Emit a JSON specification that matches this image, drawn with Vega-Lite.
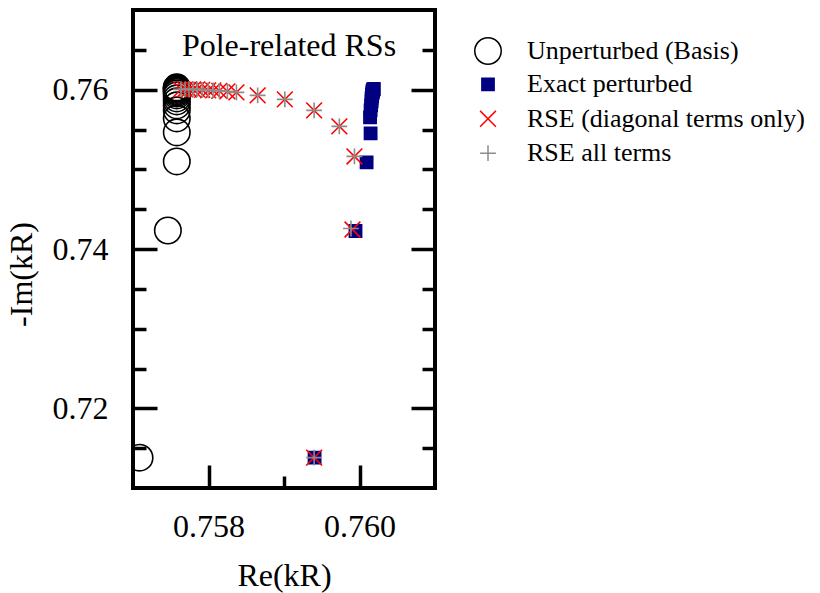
{
  "$schema": "https://vega.github.io/schema/vega-lite/v6.json",
  "width": 302,
  "height": 478,
  "autosize": {"type": "none"},
  "padding": {"left": 133, "top": 10, "right": 385, "bottom": 105},
  "background": "white",
  "config": {
    "font": "Liberation Serif",
    "view": {"stroke": "black", "strokeWidth": 4},
    "axis": {
      "domain": false,
      "grid": false,
      "tickColor": "black",
      "tickWidth": 3.5,
      "labelColor": "black",
      "titleColor": "black",
      "labelFontSize": 32,
      "titleFontSize": 32,
      "titleFontWeight": "normal",
      "labelFont": "Liberation Serif",
      "titleFont": "Liberation Serif",
      "labelOverlap": false,
      "labelFlush": false
    }
  },
  "title": {
    "text": "Pole-related RSs",
    "orient": "top",
    "anchor": "middle",
    "frame": "group",
    "offset": -78,
    "baseline": "alphabetic",
    "dx": 5,
    "fontSize": 32,
    "fontWeight": "normal",
    "font": "Liberation Serif",
    "color": "black"
  },
  "data": {
    "values": [
      {"series": "Unperturbed (Basis)", "re": 0.75758, "im": 0.750992},
      {"series": "Unperturbed (Basis)", "re": 0.75758, "im": 0.754636},
      {"series": "Unperturbed (Basis)", "re": 0.75758, "im": 0.756394},
      {"series": "Unperturbed (Basis)", "re": 0.75758, "im": 0.7574},
      {"series": "Unperturbed (Basis)", "re": 0.75758, "im": 0.758028},
      {"series": "Unperturbed (Basis)", "re": 0.75758, "im": 0.75853},
      {"series": "Unperturbed (Basis)", "re": 0.75758, "im": 0.758907},
      {"series": "Unperturbed (Basis)", "re": 0.75758, "im": 0.759284},
      {"series": "Unperturbed (Basis)", "re": 0.75758, "im": 0.759535},
      {"series": "Unperturbed (Basis)", "re": 0.75758, "im": 0.759724},
      {"series": "Unperturbed (Basis)", "re": 0.75758, "im": 0.759849},
      {"series": "Unperturbed (Basis)", "re": 0.75758, "im": 0.759975},
      {"series": "Unperturbed (Basis)", "re": 0.75758, "im": 0.7601},
      {"series": "Unperturbed (Basis)", "re": 0.75758, "im": 0.760163},
      {"series": "Unperturbed (Basis)", "re": 0.75758, "im": 0.760226},
      {"series": "Unperturbed (Basis)", "re": 0.75758, "im": 0.760289},
      {"series": "Unperturbed (Basis)", "re": 0.757462, "im": 0.742324},
      {"series": "Unperturbed (Basis)", "re": 0.757087, "im": 0.713807},
      {"series": "Exact perturbed", "re": 0.760094, "im": 0.750867},
      {"series": "Exact perturbed", "re": 0.760147, "im": 0.75451},
      {"series": "Exact perturbed", "re": 0.76014, "im": 0.75652},
      {"series": "Exact perturbed", "re": 0.760147, "im": 0.7574},
      {"series": "Exact perturbed", "re": 0.760154, "im": 0.758028},
      {"series": "Exact perturbed", "re": 0.76016, "im": 0.75853},
      {"series": "Exact perturbed", "re": 0.76016, "im": 0.758907},
      {"series": "Exact perturbed", "re": 0.760167, "im": 0.759158},
      {"series": "Exact perturbed", "re": 0.760167, "im": 0.759409},
      {"series": "Exact perturbed", "re": 0.760174, "im": 0.759598},
      {"series": "Exact perturbed", "re": 0.760174, "im": 0.759724},
      {"series": "Exact perturbed", "re": 0.760174, "im": 0.759849},
      {"series": "Exact perturbed", "re": 0.76018, "im": 0.759912},
      {"series": "Exact perturbed", "re": 0.76018, "im": 0.759975},
      {"series": "Exact perturbed", "re": 0.760187, "im": 0.760038},
      {"series": "Exact perturbed", "re": 0.760187, "im": 0.7601},
      {"series": "Exact perturbed", "re": 0.759947, "im": 0.742261},
      {"series": "Exact perturbed", "re": 0.759405, "im": 0.713806},
      {"series": "RSE (diagonal terms only)", "re": 0.759933, "im": 0.751621},
      {"series": "RSE (diagonal terms only)", "re": 0.759733, "im": 0.755389},
      {"series": "RSE (diagonal terms only)", "re": 0.759399, "im": 0.7574},
      {"series": "RSE (diagonal terms only)", "re": 0.759011, "im": 0.758781},
      {"series": "RSE (diagonal terms only)", "re": 0.758651, "im": 0.759284},
      {"series": "RSE (diagonal terms only)", "re": 0.75837, "im": 0.759661},
      {"series": "RSE (diagonal terms only)", "re": 0.75825, "im": 0.759786},
      {"series": "RSE (diagonal terms only)", "re": 0.758143, "im": 0.759849},
      {"series": "RSE (diagonal terms only)", "re": 0.758063, "im": 0.759912},
      {"series": "RSE (diagonal terms only)", "re": 0.757996, "im": 0.759912},
      {"series": "RSE (diagonal terms only)", "re": 0.757916, "im": 0.759975},
      {"series": "RSE (diagonal terms only)", "re": 0.757849, "im": 0.760038},
      {"series": "RSE (diagonal terms only)", "re": 0.757796, "im": 0.760038},
      {"series": "RSE (diagonal terms only)", "re": 0.757742, "im": 0.760038},
      {"series": "RSE (diagonal terms only)", "re": 0.757689, "im": 0.760038},
      {"series": "RSE (diagonal terms only)", "re": 0.757635, "im": 0.760038},
      {"series": "RSE (diagonal terms only)", "re": 0.759907, "im": 0.74245},
      {"series": "RSE (diagonal terms only)", "re": 0.759399, "im": 0.71381},
      {"series": "RSE all terms", "re": 0.759933, "im": 0.751621},
      {"series": "RSE all terms", "re": 0.759733, "im": 0.755389},
      {"series": "RSE all terms", "re": 0.759399, "im": 0.7574},
      {"series": "RSE all terms", "re": 0.759011, "im": 0.758781},
      {"series": "RSE all terms", "re": 0.758651, "im": 0.759284},
      {"series": "RSE all terms", "re": 0.75837, "im": 0.759661},
      {"series": "RSE all terms", "re": 0.75825, "im": 0.759786},
      {"series": "RSE all terms", "re": 0.758143, "im": 0.759849},
      {"series": "RSE all terms", "re": 0.758063, "im": 0.759912},
      {"series": "RSE all terms", "re": 0.757996, "im": 0.759912},
      {"series": "RSE all terms", "re": 0.757916, "im": 0.759975},
      {"series": "RSE all terms", "re": 0.757849, "im": 0.760038},
      {"series": "RSE all terms", "re": 0.757796, "im": 0.760038},
      {"series": "RSE all terms", "re": 0.757742, "im": 0.760038},
      {"series": "RSE all terms", "re": 0.757689, "im": 0.760038},
      {"series": "RSE all terms", "re": 0.757635, "im": 0.760038},
      {"series": "RSE all terms", "re": 0.759887, "im": 0.742576},
      {"series": "RSE all terms", "re": 0.759399, "im": 0.71381}
    ]
  },
  "layer": [
    {
      "mark": {"type": "point", "clip": true, "strokeWidth": 1.6, "opacity": 1},
      "encoding": {
        "x": {
          "field": "re", "type": "quantitative",
          "scale": {"domain": [0.757, 0.761], "nice": false, "zero": false},
          "axis": {"orient": "bottom", "values": [0.758, 0.76], "format": ".3f", "tickSize": -23, "labelPadding": 46, "title": "Re(kR)", "titlePadding": 18}
        },
        "y": {
          "field": "im", "type": "quantitative",
          "scale": {"domain": [0.71, 0.77], "nice": false, "zero": false},
          "axis": {"orient": "left", "values": [0.72, 0.74, 0.76], "format": ".2f", "tickSize": -24, "labelPadding": 49, "title": "-Im(kR)", "titlePadding": 14, "titleY": 264}
        },
        "shape": {
          "field": "series", "type": "nominal",
          "scale": {"domain": ["Unperturbed (Basis)", "Exact perturbed", "RSE (diagonal terms only)", "RSE all terms"], "range": ["circle", "square", "M-1,-1L1,1M-1,1L1,-1", "M-1,0L1,0M0,-1L0,1"]},
          "legend": {"title": null, "orient": "none", "legendX": 341, "legendY": 27, "labelFontSize": 26, "labelFont": "Liberation Serif", "labelColor": "black", "labelOffset": 25, "labelLimit": 500, "gridAlign": "all", "rowPadding": 3.4}
        },
        "fill": {
          "field": "series", "type": "nominal",
          "scale": {"domain": ["Unperturbed (Basis)", "Exact perturbed", "RSE (diagonal terms only)", "RSE all terms"], "range": ["transparent", "#000080", "transparent", "transparent"]},
          "legend": {"title": null, "orient": "none", "legendX": 341, "legendY": 27, "labelFontSize": 26, "labelFont": "Liberation Serif", "labelColor": "black", "labelOffset": 25, "labelLimit": 500, "gridAlign": "all", "rowPadding": 3.4}
        },
        "stroke": {
          "field": "series", "type": "nominal",
          "scale": {"domain": ["Unperturbed (Basis)", "Exact perturbed", "RSE (diagonal terms only)", "RSE all terms"], "range": ["black", "#000080", "red", "#8c8c8c"]},
          "legend": {"title": null, "orient": "none", "legendX": 341, "legendY": 27, "labelFontSize": 26, "labelFont": "Liberation Serif", "labelColor": "black", "labelOffset": 25, "labelLimit": 500, "gridAlign": "all", "rowPadding": 3.4}
        },
        "size": {
          "field": "series", "type": "nominal",
          "scale": {"type": "ordinal", "domain": ["Unperturbed (Basis)", "Exact perturbed", "RSE (diagonal terms only)", "RSE all terms"], "range": [700, 150, 250, 250]},
          "legend": {"title": null, "orient": "none", "legendX": 341, "legendY": 27, "labelFontSize": 26, "labelFont": "Liberation Serif", "labelColor": "black", "labelOffset": 25, "labelLimit": 500, "gridAlign": "all", "rowPadding": 3.4}
        }
      }
    },
    {
      "mark": {"type": "point", "opacity": 0},
      "encoding": {
        "x": {
          "field": "re", "type": "quantitative",
          "scale": {"domain": [0.757, 0.761], "nice": false, "zero": false},
          "axis": {"orient": "bottom", "values": [0.759], "labels": false, "tickSize": -12, "title": null}
        },
        "y": {
          "field": "im", "type": "quantitative",
          "scale": {"domain": [0.71, 0.77], "nice": false, "zero": false},
          "axis": {"orient": "left", "values": [0.715, 0.725, 0.73, 0.735, 0.745, 0.75, 0.755, 0.765], "labels": false, "tickSize": -13, "title": null}
        }
      }
    },
    {
      "mark": {"type": "point", "opacity": 0},
      "encoding": {
        "x": {"field": "re", "type": "quantitative", "scale": {"domain": [0.757, 0.761], "nice": false, "zero": false}, "axis": null},
        "y": {
          "field": "im", "type": "quantitative",
          "scale": {"domain": [0.71, 0.77], "nice": false, "zero": false},
          "axis": {"orient": "right", "values": [0.72, 0.74, 0.76], "labels": false, "tickSize": -24, "title": null}
        }
      }
    },
    {
      "mark": {"type": "point", "opacity": 0},
      "encoding": {
        "x": {"field": "re", "type": "quantitative", "scale": {"domain": [0.757, 0.761], "nice": false, "zero": false}, "axis": null},
        "y": {
          "field": "im", "type": "quantitative",
          "scale": {"domain": [0.71, 0.77], "nice": false, "zero": false},
          "axis": {"orient": "right", "values": [0.715, 0.725, 0.73, 0.735, 0.745, 0.75, 0.755, 0.765], "labels": false, "tickSize": -13, "title": null}
        }
      }
    }
  ],
  "resolve": {"axis": {"x": "independent", "y": "independent"}}
}
